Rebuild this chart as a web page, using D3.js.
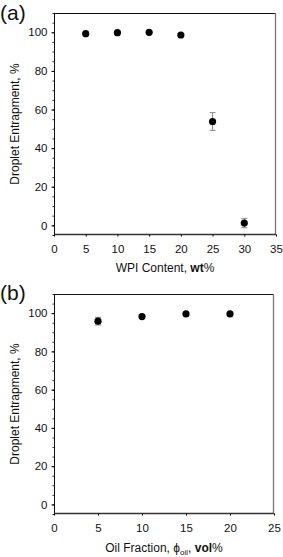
<!DOCTYPE html>
<html>
<head>
<meta charset="utf-8">
<script src="https://cdn.jsdelivr.net/npm/d3@7"></script>
<style>
body { margin: 0; background: #fff; }
text, tspan { font-family: "Liberation Sans", Arial, sans-serif; fill: #111; }
</style>
</head>
<body>
<div id="graph"></div>
<script>
// panel (a): WPI content
var wpi = [5, 10, 15, 20, 25, 30];
var wpiEntrap = [99.3, 99.8, 100, 98.6, 53.8, 1.2];
var wpiErr = [0.5, 0.4, 0.3, 0.6, 4.6, 2.4];
var wpiTicks = [0, 5, 10, 15, 20, 25, 30, 35];

// panel (b): oil fraction
var oil = [5, 10, 15, 20];
var oilEntrap = [95.8, 98.2, 99.6, 99.6];
var oilErr = [2.0, 0.5, 0.4, 0.3];
var oilTicks = [0, 5, 10, 15, 20, 25];

var yTicks = [0, 20, 40, 60, 80, 100];

var svgWidth = 283, svgHeight = 557;
var svg = d3.select('#graph').append('svg').attr('width', svgWidth).attr('height', svgHeight);

function panel(opt) {
    var g = svg.append('g').attr('transform', 'translate(' + opt.left + ',' + opt.top + ')');
    var w = opt.width, h = opt.height;

    var x = d3.scaleLinear().domain(opt.xDomain).range([0, w]);
    var y = d3.scaleLinear().domain([-5, 110]).range([h, 0]);

    // frame top / right
    g.append('line').attr('x1', 0).attr('x2', w).attr('y1', 0.5).attr('y2', 0.5)
        .attr('stroke', '#111').attr('stroke-width', 1);
    g.append('line').attr('x1', w - 0.5).attr('x2', w - 0.5).attr('y1', 0).attr('y2', h)
        .attr('stroke', '#777').attr('stroke-width', 1.3);

    // y axis with minor ticks
    var yMinor = d3.range(-5, 111, 5);
    g.append('g').attr('transform', 'translate(0.5,0)')
        .call(d3.axisLeft(y).tickValues(yMinor).tickSize(2).tickFormat(''))
        .call(function(s) { s.select('.domain').remove(); s.selectAll('line').attr('stroke', '#333'); });
    var ya = g.append('g').attr('transform', 'translate(0.5,0)')
        .call(d3.axisLeft(y).tickValues(yTicks).tickSize(3).tickPadding(4).tickSizeOuter(0));
    ya.select('.domain').attr('stroke', '#111').attr('d', 'M0,0V' + h);
    ya.selectAll('text').style('font-size', '11.5px').attr('fill', '#111');

    // x axis
    var xa = g.append('g').attr('transform', 'translate(0,' + (h - 0.5) + ')')
        .call(d3.axisBottom(x).tickValues(opt.xTicks).tickSize(2).tickPadding(8).tickSizeOuter(0));
    xa.select('.domain').attr('stroke', '#333').attr('stroke-width', 1.3).attr('d', 'M0,0H' + w);
    xa.selectAll('text').style('font-size', '11.5px').attr('fill', '#111');

    // y title
    g.append('text')
        .attr('transform', 'rotate(-90)')
        .attr('x', -h / 2)
        .attr('y', -opt.left + 19)
        .style('text-anchor', 'middle')
        .style('font-size', '12px')
        .text('Droplet Entrapment, %');

    // error bars
    var data = opt.xs.map(function(d, i) { return {x: d, y: opt.ys[i], e: opt.es[i]}; });
    var eb = g.selectAll('.err').data(data).enter().append('g').attr('class', 'err')
        .attr('stroke', '#888').attr('stroke-width', 1);
    eb.append('line')
        .attr('x1', function(d) { return x(d.x); }).attr('x2', function(d) { return x(d.x); })
        .attr('y1', function(d) { return y(d.y + d.e); }).attr('y2', function(d) { return y(d.y - d.e); });
    eb.filter(function(d) { return d.e > 1; }).append('line')
        .attr('x1', function(d) { return x(d.x) - 3; }).attr('x2', function(d) { return x(d.x) + 3; })
        .attr('y1', function(d) { return y(d.y + d.e); }).attr('y2', function(d) { return y(d.y + d.e); });
    eb.filter(function(d) { return d.e > 1; }).append('line')
        .attr('x1', function(d) { return x(d.x) - 3; }).attr('x2', function(d) { return x(d.x) + 3; })
        .attr('y1', function(d) { return y(d.y - d.e); }).attr('y2', function(d) { return y(d.y - d.e); });

    g.selectAll('.dot').data(data).enter().append('circle')
        .attr('class', 'dot')
        .attr('cx', function(d) { return x(d.x); })
        .attr('cy', function(d) { return y(d.y); })
        .attr('r', 3.6)
        .attr('fill', '#000');

    // panel letter
    svg.append('text').attr('x', 0).attr('y', opt.top + opt.letterDy)
        .style('font-size', '21px').text(opt.letter);

    return g;
}

var ga = panel({
    left: 54, top: 13, width: 222, height: 222,
    xDomain: [0, 35], xTicks: wpiTicks,
    xs: wpi, ys: wpiEntrap, es: wpiErr,
    letter: '(a)', letterDy: 7
});
var ta = ga.append('text').attr('x', 111).attr('y', 259)
    .style('text-anchor', 'middle').style('font-size', '12px');
ta.append('tspan').text('WPI Content, ');
ta.append('tspan').style('font-weight', 'bold').text('wt');
ta.append('tspan').text('%');

var gb = panel({
    left: 54, top: 294, width: 220, height: 220,
    xDomain: [0, 25], xTicks: oilTicks,
    xs: oil, ys: oilEntrap, es: oilErr,
    letter: '(b)', letterDy: 6
});
var tb = gb.append('text').attr('x', 110).attr('y', 258)
    .style('text-anchor', 'middle').style('font-size', '12px');
tb.append('tspan').style('fill', '#111').text('Oil Fraction, \u03d5');
tb.append('tspan').attr('dy', 3).style('font-size', '8px').style('fill', '#111').text('oil');
tb.append('tspan').attr('dy', -3).style('fill', '#111').text(', ');
tb.append('tspan').style('font-weight', 'bold').style('fill', '#111').text('vol');
tb.append('tspan').style('fill', '#111').text('%');
</script>
</body>
</html>
